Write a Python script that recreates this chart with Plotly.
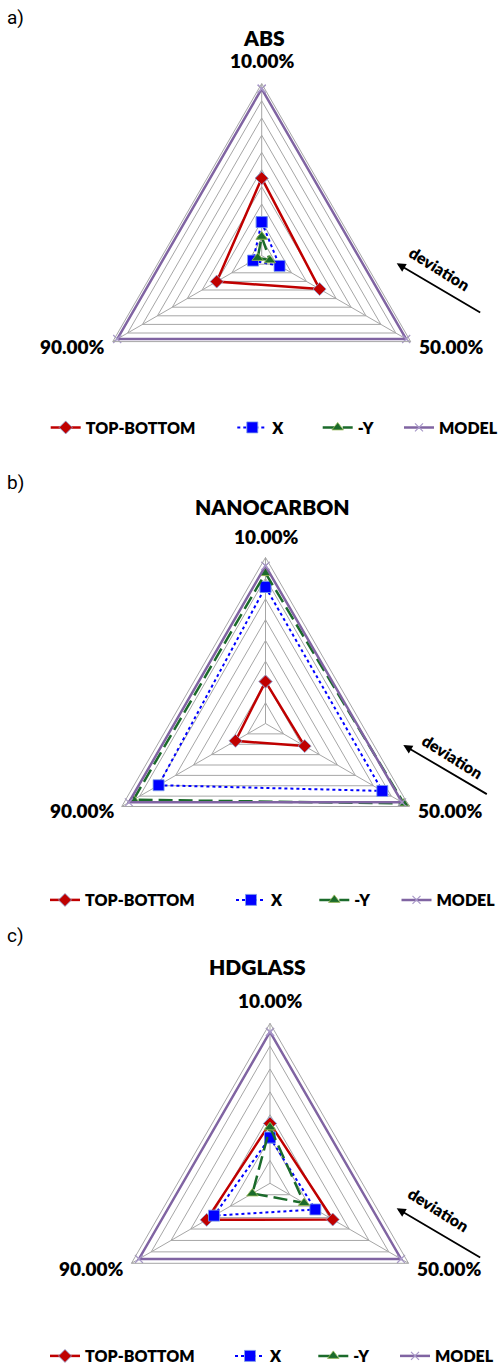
import plotly.graph_objects as go

W, H = 499, 1367

# ---------------- data ----------------
categories = ["10.00%", "50.00%", "90.00%"]
series_names = ["TOP-BOTTOM", "X", "-Y", "MODEL"]
panel_titles = ["ABS", "NANOCARBON", "HDGLASS"]
panel_tags = ["a)", "b)", "c)"]
grid_steps = [10, 8, 7]          # number of radial grid divisions per panel

# values in radial grid units, order: 10.00%, 50.00%, 90.00%
abs_top_bottom = [4.5, 3.89, 3.02]
abs_x = [1.95, 1.2, 0.58]
abs_y = [1.1, 0.55, 0.27]
abs_model = [9.7, 9.7, 9.7]

nano_top_bottom = [2.02, 2.18, 1.67]
nano_x = [6.58, 6.5, 5.95]
nano_y = [7.25, 7.7, 7.35]
nano_model = [7.6, 7.6, 7.6]

hd_top_bottom = [2.62, 3.17, 3.2]
hd_x = [2.0, 2.29, 2.83]
hd_y = [2.45, 1.72, 0.89]
hd_model = [6.62, 6.62, 6.62]

panel_data = [
    [abs_top_bottom, abs_x, abs_y, abs_model],
    [nano_top_bottom, nano_x, nano_y, nano_model],
    [hd_top_bottom, hd_x, hd_y, hd_model],
]

# ---------------- layout geometry (pixels) ----------------
centers = [(261.7, 255.6), (265.5, 723.5), (270.0, 1183.3)]
radii = [172.0, 166.0, 160.0]
title_pos = [(264, 37.5), (272.7, 506.5), (257, 966.7)]
tag_pos = [(15, 17), (15, 483), (15, 935)]
cat_label_pos = [
    [(262, 61), (451, 346), (72.5, 346)],
    [(266, 536.5), (450, 810.8), (82.5, 810.8)],
    [(270, 1000.5), (449, 1268.5), (91, 1268.5)],
]
legend_y = [427.5, 900.0, 1356.0]
legend_x = [[50.7, 237.3, 322.7, 404.0],
            [50.0, 236.0, 319.3, 401.5],
            [50.0, 235.0, 318.3, 400.0]]
arrow_head = [(396.7, 263.3), (403.3, 745.0), (396.7, 1208.3)]
dev_text = [(440, 268), (453, 756), (439, 1209)]

styles = {
    "TOP-BOTTOM": dict(line=dict(color="#C00000", width=2.5),
                       marker=dict(symbol="diamond", size=10, color="#C00000",
                                   line=dict(color="#8EA9DB", width=0.8))),
    "X": dict(line=dict(color="#0000FF", width=2, dash="dot"),
              marker=dict(symbol="square", size=11, color="#0000FF",
                          line=dict(color="#7F9FE8", width=0.8))),
    "-Y": dict(line=dict(color="#1B6B2B", width=2.5, dash="14px,6px"),
               marker=dict(symbol="triangle-up", size=10, color="#1B6B2B",
                           line=dict(color="#9BBB59", width=0.8))),
    "MODEL": dict(line=dict(color="#8064A2", width=2.5),
                  marker=dict(symbol="x-thin", size=8, color="#A898C8",
                              line=dict(color="#A898C8", width=1.2))),
}

FONT = "Lato"
WEIGHT = 800
fig = go.Figure()
layout = dict(
    width=W, height=H,
    margin=dict(l=0, r=0, t=0, b=0, autoexpand=False),
    paper_bgcolor="white",
    plot_bgcolor="white",
    showlegend=True,
    annotations=[],
)

theta_closed = categories + [categories[0]]
for p in range(3):
    pname = "polar" if p == 0 else f"polar{p + 1}"
    cx, cy = centers[p]
    R = radii[p]
    layout[pname] = dict(
        domain=dict(x=[(cx - R) / W, (cx + R) / W],
                    y=[1 - (cy + R) / H, 1 - (cy - R) / H]),
        gridshape="linear",
        bgcolor="white",
        radialaxis=dict(range=[0, grid_steps[p]], dtick=1, showticklabels=False,
                        ticks="", showline=False, gridcolor="#A6A6A6",
                        gridwidth=1),
        angularaxis=dict(type="category", categoryarray=categories,
                         direction="clockwise", rotation=90,
                         showline=True, linecolor="#A6A6A6", linewidth=1,
                         gridcolor="#A6A6A6", gridwidth=1, ticks="",
                         showticklabels=False),
    )
    for s, name in enumerate(series_names):
        vals = panel_data[p][s]
        lg_idx = p * 4 + s + 1
        lg = "legend" if lg_idx == 1 else f"legend{lg_idx}"
        fig.add_trace(go.Scatterpolar(
            r=vals + [vals[0]], theta=theta_closed,
            mode="lines+markers", name=name,
            subplot=pname, legend=lg,
            line=styles[name]["line"], marker=styles[name]["marker"],
        ))
        layout[lg] = dict(
            x=(legend_x[p][s] - 5) / W, xanchor="left",
            y=1 - legend_y[p] / H, yanchor="middle",
            orientation="h", bgcolor="rgba(0,0,0,0)", borderwidth=0,
            font=dict(family=FONT, size=16, color="black", weight=WEIGHT),
            itemwidth=30,
        )
    # category labels (text taken from the categories list)
    for k, cat in enumerate(categories):
        lx, ly = cat_label_pos[p][k]
        layout["annotations"].append(dict(
            x=lx / W, y=1 - ly / H, xref="paper", yref="paper",
            text=cat, showarrow=False,
            font=dict(family=FONT, size=19, color="black", weight=WEIGHT),
            xanchor="center", yanchor="middle"))
    # titles
    tx, ty = title_pos[p]
    layout["annotations"].append(dict(
        x=tx / W, y=1 - ty / H, xref="paper", yref="paper",
        text=panel_titles[p], showarrow=False,
        font=dict(family=FONT, size=21, color="black", weight=WEIGHT),
        xanchor="center", yanchor="middle"))
    gx, gy = tag_pos[p]
    layout["annotations"].append(dict(
        x=gx / W, y=1 - gy / H, xref="paper", yref="paper",
        text=panel_tags[p], showarrow=False,
        font=dict(family="Roboto", size=19, color="black"),
        xanchor="center", yanchor="middle"))
    hx, hy = arrow_head[p]
    layout["annotations"].append(dict(
        x=hx / W, y=1 - hy / H, xref="paper", yref="paper",
        ax=85, ay=50, text="", showarrow=True, arrowhead=2,
        arrowsize=1, arrowwidth=1.8, arrowcolor="black"))
    dx, dy = dev_text[p]
    layout["annotations"].append(dict(
        x=dx / W, y=1 - dy / H, xref="paper", yref="paper",
        text="deviation", showarrow=False, textangle=32,
        font=dict(family=FONT, size=16, color="black", weight=WEIGHT),
        xanchor="center", yanchor="middle"))

fig.update_layout(**layout)
fig.write_html("out.html",
               config={"displayModeBar": False},
               post_script="document.body.style.margin='0px';")
